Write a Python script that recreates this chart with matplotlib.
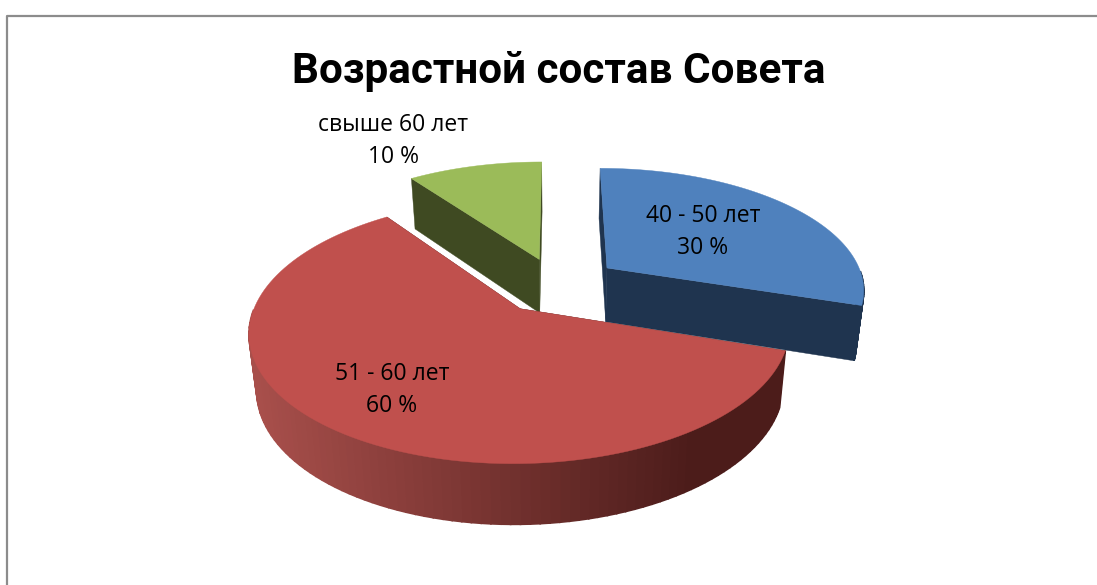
# 3D looking pie chart of the council age groups, drawn by hand since
# matplotlib's pie has no depth or perspective.
import matplotlib.pyplot as plt
import numpy as np
from matplotlib.colors import to_rgb

plt.rcParams['font.family'] = ['Open Sans', 'DejaVu Sans']

title = "Возрастной состав Совета"
categories = ["40 - 50 лет", "51 - 60 лет", "свыше 60 лет"]
values = [30, 60, 10]
value_labels = ["30 %", "60 %", "10 %"]
top_colors = ["#4f81bd", "#c0504d", "#9bbb59"]
wall_colors = ["#1f344f", "#4f1f1d", "#3f4a22"]
explode = [0.245, 0.235, 0.23]

# picture geometry, in pixels
W, H = 1097, 585
cx, cy = 557, 285
a, b = 258, 121
persp = 0.163
depth = 54.5
shrink = 0.025  # the bottom ring sits further from the camera


def project(u, v, z=0):
    w = 1 - persp * v
    return cx + a * u / w * (1 - shrink * z), cy + b * v / w + z * depth / np.sqrt(w)


def slice_outline(i, t0, t1, n=120):
    mid = (t0 + t1) / 2
    ou, ov = explode[i] * np.sin(mid), -explode[i] * np.cos(mid)
    t = np.linspace(t0, t1, n)
    return ou, ov, ou + np.sin(t), ov - np.cos(t), t


def wall(ax, u0, v0, u1, v1, color, lw=0.3):
    x0, y0 = project(u0, v0)
    x1, y1 = project(u1, v1)
    x2, y2 = project(u1, v1, 1)
    x3, y3 = project(u0, v0, 1)
    ax.fill([x0, x1, x2, x3], [y0, y1, y2, y3], color=color, lw=lw)


def outer_wall_color(x, i):
    if i != 1:
        return wall_colors[i]
    # the red rim runs light to dark from left to right
    c0 = np.array(to_rgb("#a84f4b"))
    c1 = np.array(to_rgb("#4c1c1a"))
    f = np.clip((x - 255) / (690 - 255), 0, 1)
    return tuple(c0 + (c1 - c0) * f)


def draw_slice(ax, i, t0, t1):
    ou, ov, us, vs, t = slice_outline(i, t0, t1)
    # radial walls, the ones hidden behind the top get painted over anyway
    wall(ax, ou, ov, us[0], vs[0], wall_colors[i])
    wall(ax, ou, ov, us[-1], vs[-1], wall_colors[i])
    for j in range(len(us) - 1):
        # only the part of the rim that faces the viewer
        if np.cos(t[j]) < -0.02:
            x_mid = project((us[j] + us[j + 1]) / 2, (vs[j] + vs[j + 1]) / 2)[0]
            wall(ax, us[j], vs[j], us[j + 1], vs[j + 1], outer_wall_color(x_mid, i), lw=1.2)
    xs, ys = project(np.r_[ou, us], np.r_[ov, vs])
    ax.fill(xs, ys, color=top_colors[i], lw=0.3)


def main():
    fig = plt.figure(figsize=(W / 100, H / 100), dpi=100)
    ax = fig.add_axes([0, 0, 1, 1])
    ax.set_xlim(0, W)
    ax.set_ylim(H, 0)
    ax.axis("off")

    # chart frame, right and bottom sides are cut off in the picture
    ax.plot([6.5, 6.5, W], [H, 15.5, 15.5], color="#8c8c8c", lw=1.6)

    angles = np.cumsum([0] + values) / sum(values) * 2 * np.pi
    # back slices first so the front ones overlap them
    for i in [2, 0, 1]:
        draw_slice(ax, i, angles[i], angles[i + 1])

    ax.text(559, 71, title, fontsize=30.4, fontweight="bold", family=["Roboto", "DejaVu Sans"],
            ha="center", va="center")
    label_pos = [(703, 232), (392, 390), (393, 141)]
    for name, val, (lx, ly) in zip(categories, value_labels, label_pos):
        ax.text(lx, ly - 16, name, fontsize=16.5, ha="center", va="center")
        ax.text(lx, ly + 16, val, fontsize=16.5, ha="center", va="center")

    fig.savefig("out.png", dpi=100)


main()
